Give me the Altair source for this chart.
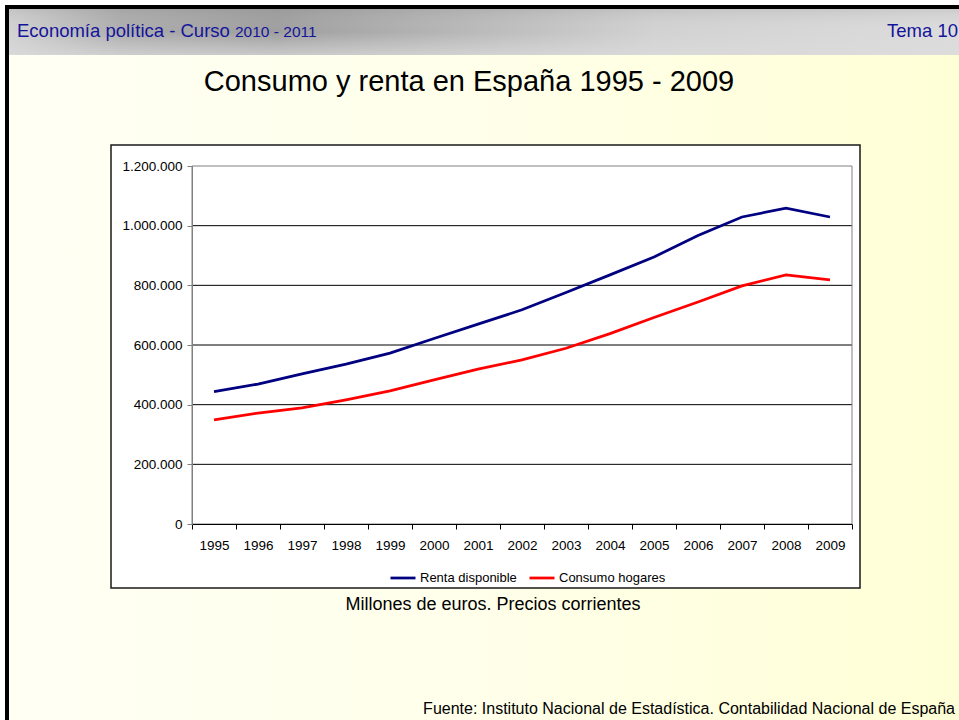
import altair as alt
import pandas as pd

# ---- data ----
years = ["1995", "1996", "1997", "1998", "1999", "2000", "2001", "2002",
         "2003", "2004", "2005", "2006", "2007", "2008", "2009"]
renta = [444000, 469000, 503000, 536000, 573000, 622000, 670000, 718000,
         776000, 835000, 895000, 967000, 1029000, 1059000, 1029000]
consumo = [349000, 372000, 389000, 416000, 446000, 483000, 519000, 550000,
           589000, 638000, 692000, 744000, 798000, 835000, 818000]
series_names = ["Renta disponible", "Consumo hogares"]
series_colors = ["#000080", "#FF0000"]
y_ticks = [0, 200000, 400000, 600000, 800000, 1000000, 1200000]
grid_values = [200000, 400000, 600000, 800000, 1000000]

header_left = "Economía política - Curso"
header_years = "2010 - 2011"
header_right = "Tema 10"
title_text = "Consumo y renta en España 1995 - 2009"
subtitle_text = "Millones de euros. Precios corrientes"
source_text = "Fuente: Instituto Nacional de Estadística. Contabilidad Nacional de España"

FONT = "Liberation Sans"
W, H = 660, 358
PAD = {"left": 192, "top": 166, "right": 107, "bottom": 196}

df = pd.DataFrame({
    "year": years * 2,
    "value": renta + consumo,
    "serie": [series_names[0]] * len(years) + [series_names[1]] * len(years),
})
grid_df = pd.DataFrame({"v": grid_values})
one = pd.DataFrame({"k": [0]})

yscale = alt.Scale(domain=[0, 1200000], nice=False)


def box(x1, x2, y1, y2, **kw):
    return alt.Chart(one).mark_rect(**kw).encode(
        x=alt.value(x1), x2=alt.value(x2), y=alt.value(y1), y2=alt.value(y2))


def label(text, x, y, size, color="black", align="left", font=FONT):
    return alt.Chart(one).mark_text(
        text=text, align=align, baseline="alphabetic", fontSize=size,
        color=color, font=font).encode(x=alt.value(x), y=alt.value(y))


# slide decoration (coordinates relative to the plot origin)
frame = box(-187, 767, -161, 554, color="black")
bg = box(-183, 767, -111, 554, color=alt.Gradient(
    gradient="linear", x1=0, x2=1, y1=0, y2=0,
    stops=[alt.GradientStop(color="#FFFFF4", offset=0),
           alt.GradientStop(color="#FFFFEA", offset=0.5),
           alt.GradientStop(color="#FFFFD6", offset=1)]))
header = box(-183, 767, -157, -111, color=alt.Gradient(
    gradient="linear", x1=0, x2=1, y1=0, y2=0,
    stops=[alt.GradientStop(color="#d2d2d2", offset=0),
           alt.GradientStop(color="#acacac", offset=0.12),
           alt.GradientStop(color="#9e9e9e", offset=0.28),
           alt.GradientStop(color="#b8b8b8", offset=0.48),
           alt.GradientStop(color="#d2d2d2", offset=0.68),
           alt.GradientStop(color="#dcdcdc", offset=1)]))
header_shade = box(-183, 767, -157, -111, color=alt.Gradient(
    gradient="linear", x1=0, x2=0, y1=0, y2=1,
    stops=[alt.GradientStop(color="rgba(140,140,140,0.2)", offset=0),
           alt.GradientStop(color="rgba(220,220,220,0)", offset=0.5),
           alt.GradientStop(color="rgba(220,220,220,0.7)", offset=1)]))
chart_box = box(-81, 668, -21, 422, color="white", stroke="#1a1a1a", strokeWidth=1.5)

blue = "#14149b"
t_header1 = label(header_left, -175, -129, 18.5, color=blue)
t_header2 = label(header_years, 43, -129, 15.5, color=blue)
t_header3 = label(header_right, 766, -129, 18.5, color=blue, align="right")
t_title = label(title_text, 277, -75, 29, align="center")
t_sub = label(subtitle_text, 301, 444, 18, align="center")
t_src = label(source_text, 763, 548, 16, align="right")

gridlines = alt.Chart(grid_df).mark_rule(color="black", strokeWidth=1).encode(
    x=alt.value(0), x2=alt.value(W), y=alt.Y("v:Q", scale=yscale))
plot_border = box(0, W, 0, H, fillOpacity=0, stroke="#808080", strokeWidth=1)

lines = alt.Chart(df).mark_line(strokeWidth=2.75).encode(
    x=alt.X("year:O", sort=years, bandPosition=0.5,
            scale=alt.Scale(type="band", paddingInner=0, paddingOuter=0),
            axis=alt.Axis(title=None, labelAngle=0, tickBand="extent",
                          domainColor="black", tickColor="black", tickSize=5,
                          labelPadding=9, labelFontSize=13.5, labelColor="black",
                          labelFont=FONT, grid=False, zindex=1)),
    y=alt.Y("value:Q", scale=yscale,
            axis=alt.Axis(title=None, values=y_ticks, grid=False,
                          domainColor="#808080", tickColor="#808080", tickSize=5,
                          labelPadding=5, labelFontSize=13.5, labelColor="black",
                          labelFont=FONT, zindex=1,
                          labelExpr="replace(format(datum.value, ','), regexp(',', 'g'), '.')")),
    color=alt.Color("serie:N", sort=series_names,
                    scale=alt.Scale(domain=series_names, range=series_colors),
                    legend=alt.Legend(orient="none", legendX=197, legendY=398,
                                      direction="horizontal", title=None,
                                      symbolType="stroke", symbolSize=625,
                                      symbolStrokeWidth=2.75, labelFontSize=13,
                                      labelColor="black", labelFont=FONT,
                                      labelOffset=3, columnPadding=7, padding=0)),
    detail="serie:N",
)

chart = alt.layer(
    frame, bg, header, header_shade, chart_box, gridlines, plot_border, lines,
    t_header1, t_header2, t_header3, t_title, t_sub, t_src,
).properties(
    width=W, height=H, padding=PAD,
    autosize=alt.AutoSizeParams(type="none"), background="white",
).configure(font=FONT).configure_view(stroke=None)

chart.save("out.html", embed_options={"renderer": "svg", "actions": False})
